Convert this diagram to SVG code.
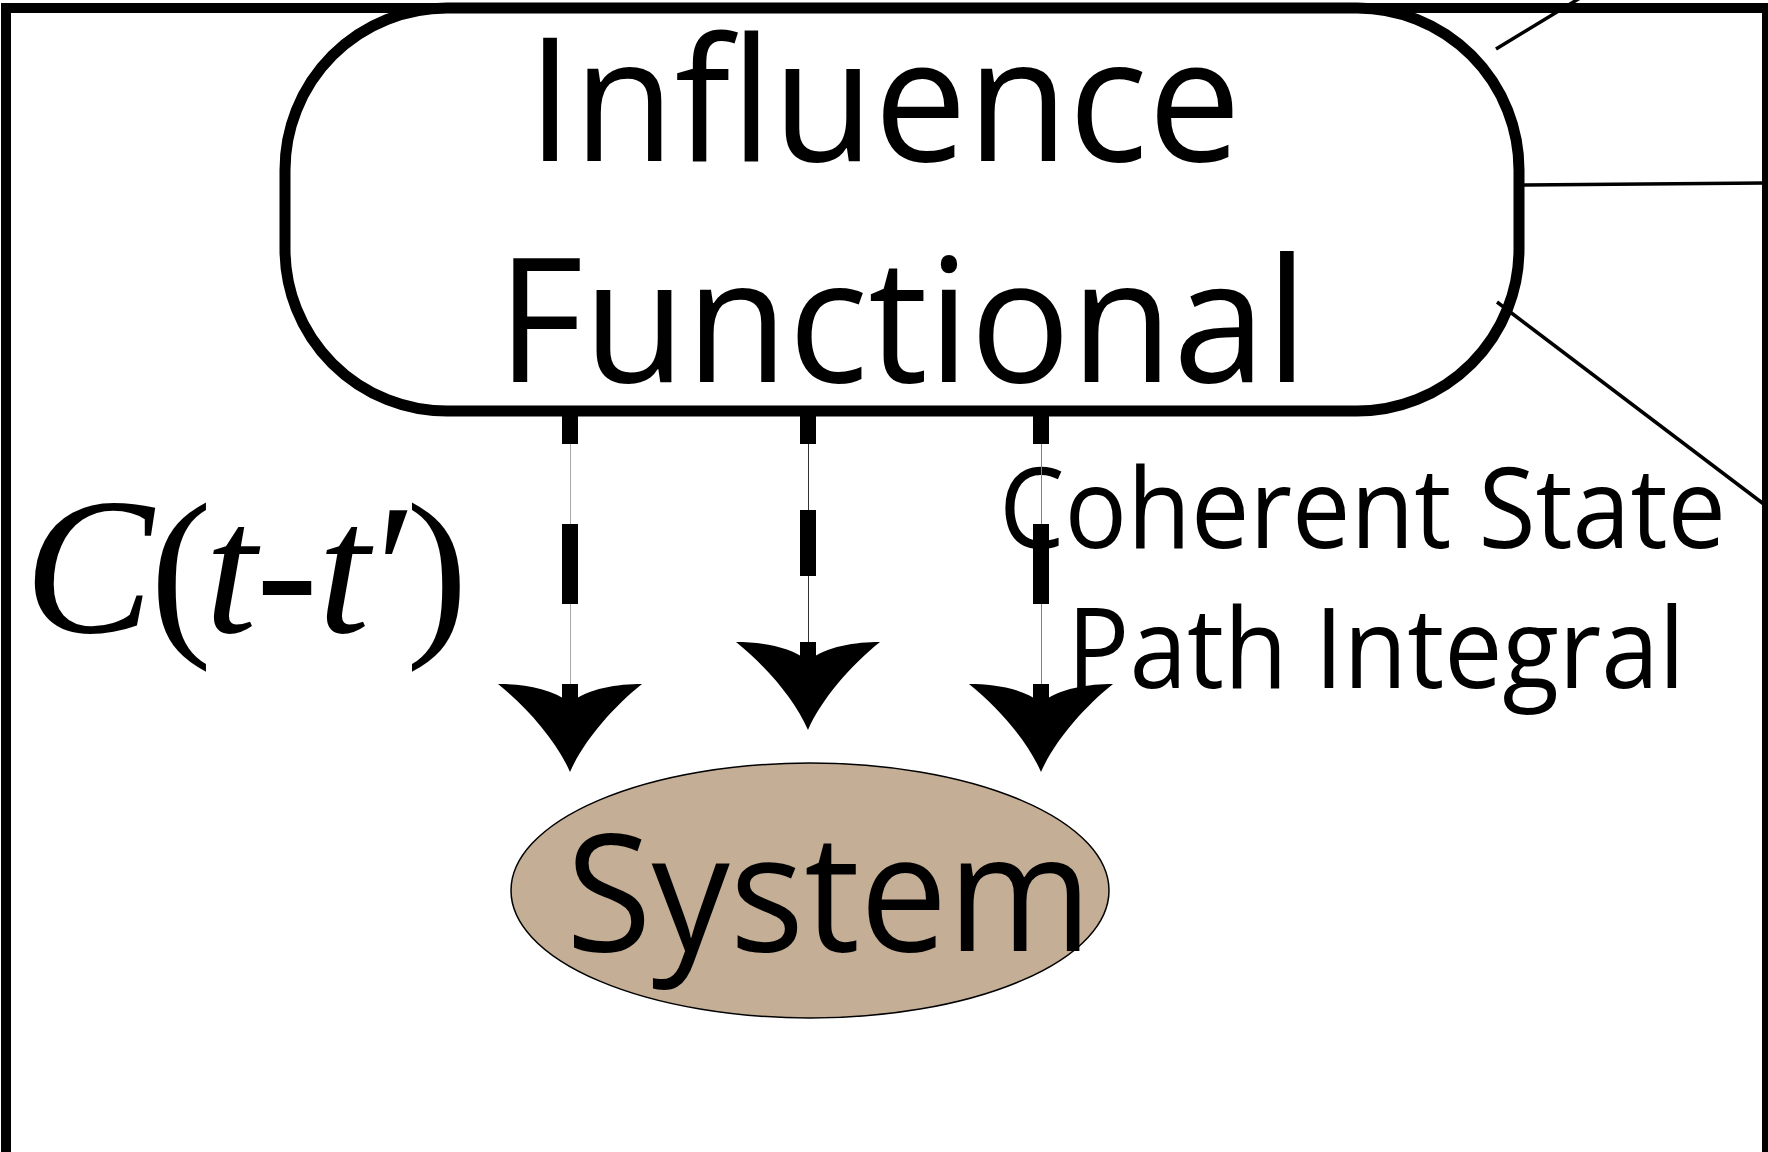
<svg xmlns="http://www.w3.org/2000/svg" xmlns:xlink="http://www.w3.org/1999/xlink" width="1768" height="1152" viewBox="0 0 1768 1152">
  <style>
    .label { font-family: "Open Sans", "Noto Sans", sans-serif; fill: #000; }
    .math { font-family: "Liberation Serif", "Times New Roman", serif; fill: #000; }
    .it { font-style: italic; }
    .stem { stroke: #000; stroke-width: 16; fill: none; }
    .guide { stroke-width: 1; fill: none; }
    .edge { stroke: #000; stroke-width: 3.5; fill: none; }
  </style>
  <defs>
    <!-- curved arrowhead, tip at origin, pointing down -->
    <path id="ah" d="M0,0 C-13,-30 -42,-64 -72,-88 C-48,-88 -18,-84 0,-69 C18,-84 48,-88 72,-88 C42,-64 13,-30 0,0 Z" fill="#000"/>
  </defs>

  <rect width="1768" height="1152" fill="#fff"/>

  <!-- outer frame -->
  <rect x="6" y="8" width="1761" height="1300" fill="none" stroke="#000" stroke-width="10"/>

  <!-- bath correlation label -->
  <text class="math" y="632" font-size="186"><tspan class="it" x="24" font-size="194">C</tspan><tspan x="150">(</tspan><tspan class="it" x="205">t</tspan><tspan x="256">-</tspan><tspan class="it" x="318">t</tspan><tspan x="376">′</tspan><tspan x="406">)</tspan></text>

  <g id="influence-functional">
    <rect x="285" y="8" width="1234" height="403" rx="162" ry="162" fill="#fff" stroke="#000" stroke-width="11"/>
    <text class="label" x="527" y="161" font-size="172" textLength="714" lengthAdjust="spacingAndGlyphs">Influence</text>
    <text class="label" x="497" y="382" font-size="172" textLength="811" lengthAdjust="spacingAndGlyphs">Functional</text>
  </g>

  <g id="system">
    <ellipse cx="810" cy="890.5" rx="299" ry="127.5" fill="#c4ae96" stroke="#000" stroke-width="1.5"/>
    <text class="label" x="566" y="951" font-size="163" textLength="526" lengthAdjust="spacingAndGlyphs">System</text>
  </g>

  <g id="coherent-state-label">
    <text class="label" x="999" y="548" font-size="111" textLength="727" lengthAdjust="spacingAndGlyphs">Coherent State</text>
    <text class="label" x="1067" y="688" font-size="111" textLength="618" lengthAdjust="spacingAndGlyphs">Path Integral</text>
  </g>

  <g id="connectors">
    <!-- left: functional to system -->
    <line class="guide" x1="570.5" y1="417" x2="570.5" y2="703" stroke="#aaa"/>
    <line class="stem" x1="570" y1="411" x2="570" y2="703" stroke-dasharray="80 80" stroke-dashoffset="47"/>
    <use xlink:href="#ah" x="570" y="772"/>

    <!-- middle -->
    <line class="guide" x1="808.5" y1="417" x2="808.5" y2="663" stroke="#333"/>
    <line class="stem" x1="808" y1="411" x2="808" y2="663" stroke-dasharray="66 66" stroke-dashoffset="33"/>
    <use xlink:href="#ah" x="808" y="730"/>

    <!-- right -->
    <line class="guide" x1="1041.5" y1="417" x2="1041.5" y2="703" stroke="#808080"/>
    <line class="stem" x1="1041" y1="411" x2="1041" y2="703" stroke-dasharray="80 80" stroke-dashoffset="47"/>
    <use xlink:href="#ah" x="1041" y="772"/>

    <!-- links leaving to the right -->
    <line class="edge" x1="1496" y1="49" x2="1580" y2="-2"/>
    <line class="edge" x1="1524" y1="185" x2="1765" y2="183"/>
    <line class="edge" x1="1497" y1="302" x2="1765" y2="505"/>
  </g>
</svg>
